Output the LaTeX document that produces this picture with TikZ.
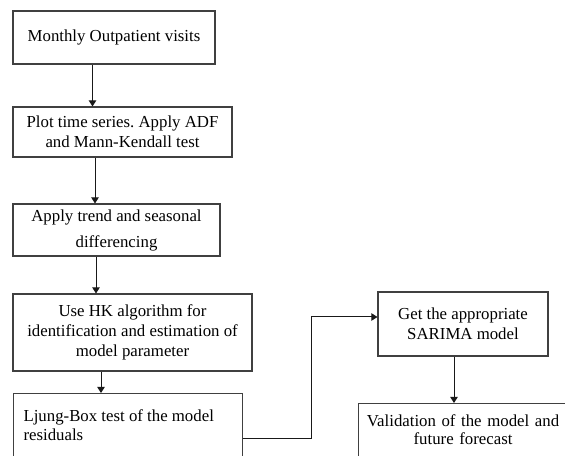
\documentclass[tikz,border=0pt]{standalone}
\usepackage{fontspec}
\setmainfont{Liberation Serif}
\usetikzlibrary{positioning,arrows.meta}
\frenchspacing

\begin{document}
\begin{tikzpicture}[x=0.75pt,y=-0.75pt,
    stage/.style={draw=black!75,line width=0.8pt,align=center,inner sep=4pt,
                  font=\fontsize{12.6}{15}\selectfont},
    flow/.style={draw=black!90,line width=0.75pt,-{Triangle[width=5.5pt,length=4.5pt]}}]
    \useasboundingbox (0,0) rectangle (565,456);
    \clip (0,0) rectangle (565,456);
    \node[stage,minimum width=151.5pt,minimum height=39.75pt] (visits) at (114,37.5) {Monthly Outpatient visits};
    \node[stage,minimum width=164.25pt,minimum height=37.5pt] (plot) at (122.5,132) {Plot time series. Apply ADF\\and Mann-Kendall test};
    \node[stage,minimum width=155.25pt,minimum height=39pt] (diff) at (116.5,230) {Apply trend and seasonal\\[4.5pt]differencing};
    \node[stage,minimum width=179.25pt,minimum height=57.75pt] (hk) at (132.5,332.5) {Use HK algorithm for\\identification and estimation of\\model parameter};
    \node[stage,anchor=north west,align=flush left,text width=156.75pt,inner xsep=7.5pt,
          text height=17pt,text depth=50pt,font=\fontsize{12.6}{14}\selectfont] (ljung) at (13,393) {Ljung-Box test of the model\\residuals};
    \node[stage,minimum width=127.5pt,minimum height=48pt] (sarima) at (463,324) {Get the appropriate\\SARIMA model};
    \node[stage,anchor=north west,text width=152pt,inner xsep=2.375pt,text height=13pt,text depth=50pt,
          font=\fontsize{12.6}{14}\selectfont] (valid) at (358,403) {Validation of the model and\\future forecast};
    \draw[flow] (visits.south -| 92.5,0) -- (plot.north -| 92.5,0);
    \draw[flow] (plot.south -| 95,0) -- (diff.north -| 95,0);
    \draw[flow] (diff.south -| 96,0) -- (hk.north -| 96,0);
    \draw[flow] (hk.south -| 101,0) -- (ljung.north -| 101,0);
    \draw[flow] (ljung.east |- 0,439) -| (311,317) -- (sarima.west |- 0,317);
    \draw[flow] (sarima.south -| 454,0) -- (valid.north -| 454,0);
\end{tikzpicture}
\end{document}
